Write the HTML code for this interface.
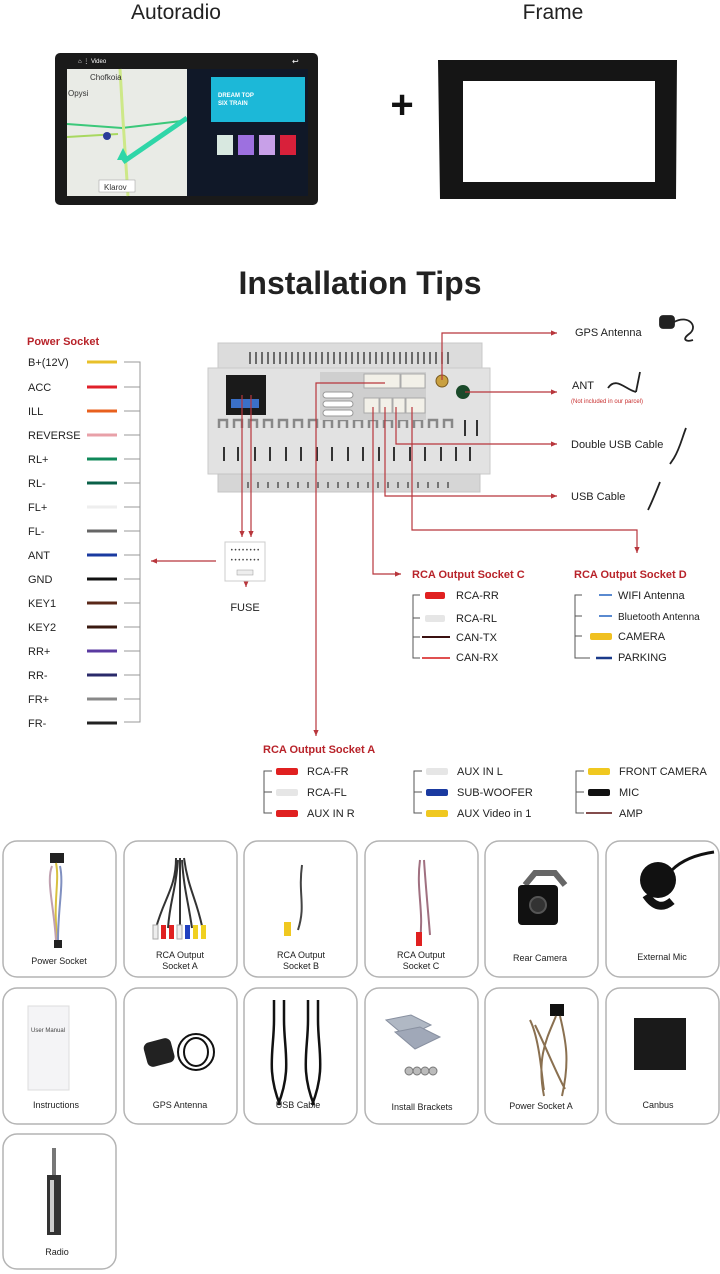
<!DOCTYPE html>
<html><head><meta charset="utf-8"><style>
html,body{margin:0;padding:0;background:#fff}
svg{display:block}
text{font-family:"Liberation Sans",sans-serif}
</style></head><body>
<svg width="720" height="1274" viewBox="0 0 720 1274" xmlns="http://www.w3.org/2000/svg">
<defs>
<marker id="ar" markerWidth="6" markerHeight="6" refX="5" refY="3" orient="auto"><path d="M0,0.8 L5,3 L0,5.2z" fill="#b8363c"/></marker>
</defs>
<!-- Top titles -->
<text x="176" y="19" font-size="21" text-anchor="middle" fill="#222">Autoradio</text>
<text x="553" y="19" font-size="21" text-anchor="middle" fill="#222">Frame</text>
<!-- Autoradio -->
<rect x="55" y="53" width="263" height="152" rx="5" fill="#1a1a1a"/>
<rect x="67" y="69" width="120" height="127" fill="#e9ebe6"/>
<path d="M67,124 L122,128 L190,120" stroke="#3bc87a" stroke-width="2" fill="none"/>
<path d="M67,137 L118,134" stroke="#a8d860" stroke-width="2" fill="none"/>
<path d="M120,69 L123,120 L128,196" stroke="#cde888" stroke-width="3" fill="none"/>
<path d="M123,162 L187,118" stroke="#2fd6a8" stroke-width="5" fill="none"/>
<path d="M117,160 L123,148 L129,160z" fill="#2fd6a8"/>
<circle cx="107" cy="136" r="4" fill="#2a3c9a"/>
<text x="90" y="80" font-size="8" fill="#333">Chofkoia</text>
<text x="68" y="96" font-size="8" fill="#333">Opysi</text>
<rect x="99" y="180" width="36" height="12" fill="#fff" stroke="#999" stroke-width="0.5"/>
<text x="104" y="190" font-size="8" fill="#333">Klarov</text>
<rect x="187" y="69" width="121" height="127" fill="#101828"/>
<rect x="211" y="77" width="94" height="45" fill="#1cb8d8"/>
<text x="218" y="97" font-size="6" font-weight="bold" fill="#fff">DREAM TOP</text>
<text x="218" y="105" font-size="6" font-weight="bold" fill="#fff">SIX TRAIN</text>
<rect x="217" y="135" width="16" height="20" fill="#d8e8e0"/>
<rect x="238" y="135" width="16" height="20" fill="#9d70e0"/>
<rect x="259" y="135" width="16" height="20" fill="#c8a0e8"/>
<rect x="280" y="135" width="16" height="20" fill="#d8203a"/>
<text x="78" y="63" font-size="6" fill="#fff">⌂  ⋮ Video</text>
<text x="292" y="64" font-size="8" fill="#fff">↩</text>
<!-- Plus -->
<text x="402" y="118" font-size="40" font-weight="bold" text-anchor="middle" fill="#111">+</text>
<!-- Frame -->
<path fill-rule="evenodd" fill="#151515" d="M438,60 L677,60 L676,199 L440,199z M463,81 L655,81 L655,182 L463,182z"/>
<!-- Installation Tips -->
<text x="360" y="294" font-size="32" font-weight="bold" text-anchor="middle" fill="#222">Installation Tips</text>

<!-- Power socket -->
<text x="27" y="345" font-size="11" font-weight="bold" fill="#b8232a">Power Socket</text>
<g font-size="11" fill="#222">
<text x="28" y="366">B+(12V)</text><text x="28" y="391">ACC</text><text x="28" y="415">ILL</text><text x="28" y="439">REVERSE</text>
<text x="28" y="463">RL+</text><text x="28" y="487">RL-</text><text x="28" y="511">FL+</text><text x="28" y="535">FL-</text>
<text x="28" y="559">ANT</text><text x="28" y="583">GND</text><text x="28" y="607">KEY1</text><text x="28" y="631">KEY2</text>
<text x="28" y="655">RR+</text><text x="28" y="679">RR-</text><text x="28" y="703">FR+</text><text x="28" y="727">FR-</text>
</g>
<g stroke-width="3">
<line x1="87" y1="362" x2="117" y2="362" stroke="#e8c02a"/>
<line x1="87" y1="387" x2="117" y2="387" stroke="#e0202a"/>
<line x1="87" y1="411" x2="117" y2="411" stroke="#e8601e"/>
<line x1="87" y1="435" x2="117" y2="435" stroke="#e8a0a8"/>
<line x1="87" y1="459" x2="117" y2="459" stroke="#10885a"/>
<line x1="87" y1="483" x2="117" y2="483" stroke="#0a6048"/>
<line x1="87" y1="507" x2="117" y2="507" stroke="#eeeeee"/>
<line x1="87" y1="531" x2="117" y2="531" stroke="#666"/>
<line x1="87" y1="555" x2="117" y2="555" stroke="#1a3aa0"/>
<line x1="87" y1="579" x2="117" y2="579" stroke="#111"/>
<line x1="87" y1="603" x2="117" y2="603" stroke="#5a2818"/>
<line x1="87" y1="627" x2="117" y2="627" stroke="#3a1a10"/>
<line x1="87" y1="651" x2="117" y2="651" stroke="#5a3aa0"/>
<line x1="87" y1="675" x2="117" y2="675" stroke="#2a2a6a"/>
<line x1="87" y1="699" x2="117" y2="699" stroke="#888"/>
<line x1="87" y1="723" x2="117" y2="723" stroke="#222"/>
</g>
<g stroke="#999" stroke-width="1" fill="none">
<path d="M124,362 H140 V722 H124"/>
<path d="M124,387H140M124,411H140M124,435H140M124,459H140M124,483H140M124,507H140M124,531H140M124,555H140M124,579H140M124,603H140M124,627H140M124,651H140M124,675H140M124,699H140"/>
</g>

<!-- Unit -->
<rect x="218" y="343" width="264" height="30" fill="#dcdcdc" stroke="#c8c8c8"/>
<g stroke="#444" stroke-width="1.5">
<path d="M250,352v12M256,352v12M262,352v12M268,352v12M274,352v12M280,352v12M286,352v12M292,352v12M298,352v12M304,352v12M310,352v12M316,352v12M322,352v12M328,352v12M334,352v12M340,352v12M346,352v12M352,352v12M358,352v12M364,352v12M370,352v12M376,352v12M382,352v12M388,352v12M394,352v12M400,352v12M406,352v12M412,352v12M418,352v12M424,352v12M430,352v12M436,352v12M442,352v12M448,352v12"/>
</g>
<rect x="208" y="368" width="282" height="106" fill="#e2e2e2" stroke="#cacaca"/>
<rect x="218" y="474" width="262" height="18" fill="#d6d6d6" stroke="#c4c4c4"/>
<g stroke="#555" stroke-width="1.5">
<path d="M248,482v6M258,482v6M268,482v6M278,482v6M288,482v6M298,482v6M308,482v6M318,482v6M328,482v6M338,482v6M348,482v6M358,482v6M368,482v6M378,482v6M388,482v6M398,482v6M408,482v6M418,482v6M428,482v6M438,482v6M448,482v6"/>
</g>
<g fill="none" stroke="#888" stroke-width="2.5">
<path d="M219,428v-8h8v8M234,428v-8h8v8M249,428v-8h8v8M264,428v-8h8v8M279,428v-8h8v8M294,428v-8h8v8M309,428v-8h8v8M324,428v-8h8v8M339,428v-8h8v8M354,428v-8h8v8M369,428v-8h8v8M384,428v-8h8v8M399,428v-8h8v8M414,428v-8h8v8M429,428v-8h8v8M444,428v-8h8v8"/>
</g>
<g stroke="#333" stroke-width="2">
<path d="M224,447v14M238,447v14M255,447v14M270,447v14M286,447v14M301,447v14M317,447v14M332,447v14M348,447v14M363,447v14M379,447v14M394,447v14M410,447v14M425,447v14M441,447v14M456,447v14M470,447v14"/>
<path d="M465,420v16M477,420v16"/>
</g>
<rect x="226" y="375" width="40" height="40" fill="#1a1a1a"/>
<rect x="231" y="399" width="28" height="9" fill="#3a70c8"/>
<rect x="320" y="372" width="106" height="48" fill="#cfcfcf"/>
<rect x="364" y="374" width="36" height="14" fill="#f2f0e8" stroke="#aaa"/>
<rect x="401" y="374" width="24" height="14" fill="#f2f0e8" stroke="#aaa"/>
<rect x="364" y="398" width="15" height="15" fill="#f2f0e8" stroke="#aaa"/>
<rect x="380" y="398" width="12" height="15" fill="#f2f0e8" stroke="#aaa"/>
<rect x="393" y="398" width="12" height="15" fill="#f2f0e8" stroke="#aaa"/>
<rect x="406" y="398" width="19" height="15" fill="#f2f0e8" stroke="#aaa"/>
<rect x="323" y="392" width="30" height="6" rx="3" fill="#fff" stroke="#999"/>
<rect x="323" y="401" width="30" height="6" rx="3" fill="#fff" stroke="#999"/>
<rect x="323" y="410" width="30" height="6" rx="3" fill="#fff" stroke="#999"/>
<circle cx="442" cy="381" r="6" fill="#c9a040" stroke="#7a5a20"/>
<circle cx="463" cy="392" r="7" fill="#1a4a2a"/>

<!-- Red connectors -->
<g stroke="#b8363c" stroke-width="1.2" fill="none" marker-end="url(#ar)">
<path d="M242,395 V537"/>
<path d="M251,395 V537"/>
<path d="M385,383 H316 V736"/>
<path d="M442,380 V333 H557"/>
<path d="M465,392 H557"/>
<path d="M396,407 V444 H557"/>
<path d="M385,407 V496 H557"/>
<path d="M373,407 V574 H401"/>
<path d="M412,407 V530 H637 V553"/>
<path d="M216,561 H151"/>
<path d="M246,567 V587"/>
</g>
<!-- Fuse -->
<rect x="225" y="542" width="40" height="39" fill="#fff" stroke="#ccc"/>
<text x="245" y="552" font-size="6" text-anchor="middle" fill="#444">• • • • • • • •</text>
<text x="245" y="562" font-size="6" text-anchor="middle" fill="#444">• • • • • • • •</text>
<rect x="237" y="570" width="16" height="5" fill="#eee" stroke="#999" stroke-width="0.5"/>
<text x="245" y="611" font-size="11" text-anchor="middle" fill="#222">FUSE</text>

<!-- Right labels -->
<g font-size="11" fill="#222">
<text x="575" y="336">GPS Antenna</text>
<text x="572" y="389">ANT</text>
<text x="571" y="448">Double USB Cable</text>
<text x="571" y="500">USB Cable</text>
</g>
<text x="571" y="403" font-size="6" fill="#c83030">(Not included in our parcel)</text>
<g fill="none" stroke="#222" stroke-width="1.8">
<rect x="660" y="316" width="14" height="12" rx="3" fill="#222"/>
<path d="M674,322 c15,-8 25,5 15,12 c-8,6 -2,8 4,6"/>
<path d="M608,388 c8,-12 18,2 28,4 M636,392 l4,-20"/>
<path d="M686,428 c-4,10 -6,20 -12,30 l-4,6"/>
<path d="M660,482 c-4,10 -8,20 -12,28"/>
</g>

<!-- RCA C -->
<text x="412" y="578" font-size="11" font-weight="bold" fill="#b8232a">RCA Output Socket C</text>
<g font-size="11" fill="#222">
<text x="456" y="599">RCA-RR</text><text x="456" y="622">RCA-RL</text><text x="456" y="641">CAN-TX</text><text x="456" y="661">CAN-RX</text>
</g>
<path d="M420,595 H413 V658 H420 M413,618H420 M413,637H420" stroke="#555" fill="none"/>
<rect x="425" y="592" width="20" height="7" rx="2" fill="#e02020"/>
<rect x="425" y="615" width="20" height="7" rx="2" fill="#e6e6e6"/>
<line x1="422" y1="637" x2="450" y2="637" stroke="#3a1010" stroke-width="2"/>
<line x1="422" y1="658" x2="450" y2="658" stroke="#e05050" stroke-width="2"/>

<!-- RCA D -->
<text x="574" y="578" font-size="11" font-weight="bold" fill="#b8232a">RCA Output Socket D</text>
<g font-size="11" fill="#222">
<text x="618" y="599">WIFI Antenna</text><text x="618" y="620" font-size="10">Bluetooth Antenna</text><text x="618" y="640">CAMERA</text><text x="618" y="661">PARKING</text>
</g>
<path d="M582,595 H575 V658 H590 M575,616H582 M575,636H582" stroke="#555" fill="none"/>
<line x1="599" y1="595" x2="612" y2="595" stroke="#5a8ad0" stroke-width="2"/>
<line x1="599" y1="616" x2="612" y2="616" stroke="#5a8ad0" stroke-width="2"/>
<rect x="590" y="633" width="22" height="7" rx="2" fill="#f0c020"/>
<line x1="596" y1="658" x2="612" y2="658" stroke="#1a3a8a" stroke-width="2.5"/>

<!-- RCA A -->
<text x="263" y="753" font-size="11" font-weight="bold" fill="#b8232a">RCA Output Socket A</text>
<g font-size="11" fill="#222">
<text x="307" y="775">RCA-FR</text><text x="307" y="796">RCA-FL</text><text x="307" y="817">AUX IN R</text>
<text x="457" y="775">AUX IN L</text><text x="457" y="796">SUB-WOOFER</text><text x="457" y="817">AUX Video in 1</text>
<text x="619" y="775">FRONT CAMERA</text><text x="619" y="796">MIC</text><text x="619" y="817">AMP</text>
</g>
<g stroke="#555" fill="none">
<path d="M272,771 H264 V813 H272 M264,792H272"/>
<path d="M422,771 H414 V813 H422 M414,792H422"/>
<path d="M584,771 H576 V813 H584 M576,792H584"/>
</g>
<rect x="276" y="768" width="22" height="7" rx="2" fill="#e02020"/>
<rect x="276" y="789" width="22" height="7" rx="2" fill="#e6e6e6"/>
<rect x="276" y="810" width="22" height="7" rx="2" fill="#e02020"/>
<rect x="426" y="768" width="22" height="7" rx="2" fill="#e6e6e6"/>
<rect x="426" y="789" width="22" height="7" rx="2" fill="#1a3aa0"/>
<rect x="426" y="810" width="22" height="7" rx="2" fill="#f0c820"/>
<rect x="588" y="768" width="22" height="7" rx="2" fill="#f0c820"/>
<rect x="588" y="789" width="22" height="7" rx="2" fill="#111"/>
<line x1="586" y1="813" x2="612" y2="813" stroke="#5a1010" stroke-width="1.5"/>

<!-- Bottom cards -->
<g fill="#fff" stroke="#b4b4b4" stroke-width="1.5">
<rect x="3" y="841" width="113" height="136" rx="14"/>
<rect x="124" y="841" width="113" height="136" rx="14"/>
<rect x="244" y="841" width="113" height="136" rx="14"/>
<rect x="365" y="841" width="113" height="136" rx="14"/>
<rect x="485" y="841" width="113" height="136" rx="14"/>
<rect x="606" y="841" width="113" height="136" rx="14"/>
<rect x="3" y="988" width="113" height="136" rx="14"/>
<rect x="124" y="988" width="113" height="136" rx="14"/>
<rect x="244" y="988" width="113" height="136" rx="14"/>
<rect x="365" y="988" width="113" height="136" rx="14"/>
<rect x="485" y="988" width="113" height="136" rx="14"/>
<rect x="606" y="988" width="113" height="136" rx="14"/>
<rect x="3" y="1134" width="113" height="135" rx="14"/>
</g>
<g font-size="9" fill="#222" text-anchor="middle">
<text x="59" y="964">Power Socket</text>
<text x="180" y="958">RCA Output</text><text x="180" y="969">Socket A</text>
<text x="301" y="958">RCA Output</text><text x="301" y="969">Socket B</text>
<text x="421" y="958">RCA Output</text><text x="421" y="969">Socket C</text>
<text x="540" y="961">Rear Camera</text>
<text x="662" y="960">External Mic</text>
<text x="56" y="1108">Instructions</text>
<text x="180" y="1108">GPS Antenna</text>
<text x="298" y="1108">USB Cable</text>
<text x="422" y="1110">Install Brackets</text>
<text x="541" y="1109">Power Socket A</text>
<text x="658" y="1108">Canbus</text>
<text x="57" y="1255">Radio</text>
</g>
<!-- card icons -->
<g fill="none" stroke-width="2">
<rect x="50" y="853" width="14" height="10" fill="#222" stroke="none"/>
<path d="M56,863 c4,20 -4,40 2,80" stroke="#d8c040"/>
<path d="M52,866 c-6,15 2,40 4,75" stroke="#c0a0b0"/>
<path d="M60,866 c4,18 -2,40 -2,75" stroke="#8090c0"/>
<rect x="54" y="940" width="8" height="8" fill="#222" stroke="none"/>
<path d="M176,858 c0,30 -12,40 -20,70 M180,858 c0,30 0,40 0,70 M184,858 c4,30 12,40 18,68 M178,860 c-2,30 -8,40 -10,68 M182,860 c2,30 6,40 10,68" stroke="#333"/>
<rect x="153" y="925" width="5" height="14" fill="#eee" stroke="#aaa" stroke-width="1"/>
<rect x="161" y="925" width="5" height="14" fill="#e02020" stroke="none"/>
<rect x="169" y="925" width="5" height="14" fill="#e02020" stroke="none"/>
<rect x="177" y="925" width="5" height="14" fill="#eee" stroke="#aaa" stroke-width="1"/>
<rect x="185" y="925" width="5" height="14" fill="#2040c0" stroke="none"/>
<rect x="193" y="925" width="5" height="14" fill="#f0d020" stroke="none"/>
<rect x="201" y="925" width="5" height="14" fill="#f0d020" stroke="none"/>
<path d="M302,865 c-4,30 4,40 -4,65" stroke="#444"/>
<rect x="284" y="922" width="7" height="14" fill="#f0c820" stroke="none"/>
<path d="M420,860 c-4,30 4,50 0,80 M424,860 c2,30 4,50 6,75" stroke="#a07080"/>
<rect x="416" y="932" width="6" height="14" fill="#e02020" stroke="none"/>
<path d="M525,885 l10,-12 h20 l10,12" stroke="#666" stroke-width="6"/>
<rect x="518" y="885" width="40" height="40" rx="4" fill="#111" stroke="none"/>
<circle cx="538" cy="905" r="8" fill="#333" stroke="#555"/>
<circle cx="658" cy="880" r="18" fill="#111" stroke="none"/>
<path d="M646,895 q12,18 26,6" stroke="#111" stroke-width="8"/>
<path d="M672,870 q14,-14 42,-18" stroke="#111" stroke-width="3"/>
<rect x="28" y="1006" width="41" height="84" fill="#f4f4f6" stroke="#ddd" stroke-width="1"/>
<text x="48" y="1032" font-size="6" text-anchor="middle" fill="#444" stroke="none">User Manual</text>
<rect x="145" y="1040" width="28" height="25" rx="6" fill="#222" stroke="none" transform="rotate(-15 159 1052)"/>
<ellipse cx="196" cy="1052" rx="18" ry="18" stroke="#111"/>
<ellipse cx="196" cy="1052" rx="12" ry="14" stroke="#111"/>
<path d="M274,1000 v20 c0,30 -8,50 6,85 M284,1000 v20 c0,30 8,50 -6,85 M308,1000 v20 c0,30 -8,50 6,85 M318,1000 v20 c0,30 8,50 -6,85" stroke="#111" stroke-width="2.5"/>
<path d="M386,1020 l25,-5 l20,10 l-25,12z" fill="#b0b8c4" stroke="#8890a0" stroke-width="1"/>
<path d="M395,1032 l25,-5 l20,10 l-25,12z" fill="#a0a8b8" stroke="#8890a0" stroke-width="1"/>
<g fill="#bbb" stroke="#777" stroke-width="1"><circle cx="409" cy="1071" r="4"/><circle cx="417" cy="1071" r="4"/><circle cx="425" cy="1071" r="4"/><circle cx="433" cy="1071" r="4"/></g>
<rect x="550" y="1004" width="14" height="12" fill="#111" stroke="none"/>
<path d="M556,1016 c-8,20 -20,40 -12,80 M560,1016 c6,25 10,45 2,80 M530,1020 c10,20 12,60 14,70 M535,1025 c10,20 22,50 30,64" stroke="#8a7050"/>
<rect x="634" y="1018" width="52" height="52" fill="#1a1a1a" stroke="none"/>
<rect x="52" y="1148" width="4" height="30" fill="#777" stroke="none"/>
<rect x="47" y="1175" width="14" height="60" fill="#333" stroke="none"/>
<rect x="50" y="1180" width="4" height="52" fill="#ccc" stroke="none"/>
</g>
</svg>
</body></html>
